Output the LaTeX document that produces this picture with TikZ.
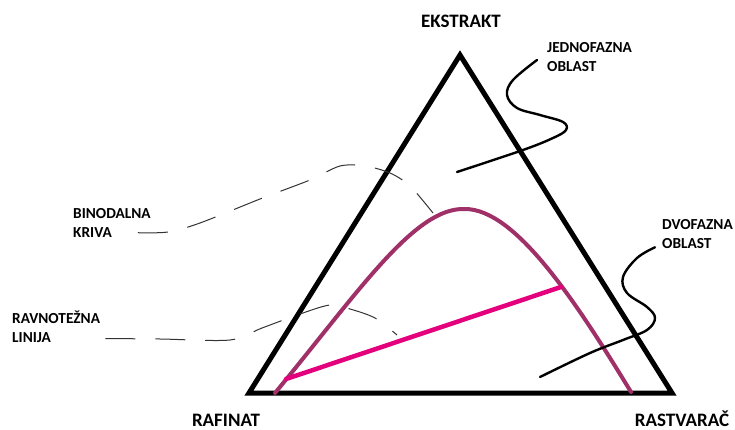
\documentclass[tikz,border=0pt]{standalone}
\usepackage{fontspec}
\setmainfont{Carlito}
\usepackage{tikz}
\usetikzlibrary{calc}
\definecolor{binodcol}{RGB}{160,48,104}
\definecolor{tiecol}{RGB}{228,0,124}
\tikzset{
  tri/.style={draw, line width=5pt},
  binod/.style={draw=binodcol, line width=4pt, line cap=round},
  tie/.style={draw=tiecol, line width=4.5pt, line cap=round},
  wave/.style={draw, line width=2.4pt, line cap=round},
  lead/.style={draw=black!80, line width=1pt, dash pattern=on 30pt off 20pt},
  corner/.style={font=\fontsize{19}{23}\selectfont\bfseries, inner sep=0pt, anchor=base},
  lbl/.style={font=\fontsize{15.3}{19}\selectfont\bfseries, inner sep=0pt,
              align=left, anchor=west},
}
\begin{document}
\begin{tikzpicture}[x=1pt, y=-1pt]
\useasboundingbox (0,0) rectangle (735,430);

\coordinate (E) at (460,55);
\coordinate (R) at (249,393);
\coordinate (S) at (672,393);

\node[corner] (ekstrakt)  at (461,27.5) {EKSTRAKT};
\node[corner] (rafinat)   at (226,426)  {RAFINAT};
\node[corner] (rastvarac) at (682,426)  {RASTVARAČ};

\node[lbl] (jedno)   at (547,57.5)  {JEDNOFAZNA\\OBLAST};
\node[lbl] (dvo)     at (662,234.5) {DVOFAZNA\\OBLAST};
\node[lbl] (binodal) at (73,223)    {BINODALNA\\KRIVA};
\node[lbl] (ravno)   at (12,326.5)  {RAVNOTEŽNA\\LINIJA};

\draw[tri] (R) -- (E) -- (S) -- cycle;

\coordinate (b1) at (275,393);
\coordinate (b2) at (465,209);
\coordinate (b3) at (631,392);
\draw[binod] (b1) .. controls (360,290) and (415,207) .. (b2)
  .. controls (515,209) and (575,300) .. (b3);

\coordinate (t1) at (286,379);
\coordinate (t2) at (561,287);
\draw[tie] (t1) -- (t2);

\coordinate (jedno-in)   at ($(jedno.west)+(-10,2.5)$);
\coordinate (jedno-out)  at (457,172);
\coordinate (dvo-in)     at ($(dvo.south west)+(-7,-2)$);
\coordinate (dvo-out)    at (540,377);
\coordinate (binodal-in) at ($(binodal.south east)+(-13,-5)$);
\coordinate (binodal-out) at (433,213);
\coordinate (ravno-in)   at ($(ravno.south east)+(5,-4)$);
\coordinate (ravno-out)  at (397,335);

\draw[wave] plot[smooth, tension=0.6] coordinates {(jedno-in) (513,80) (507,95)
  (517,108) (540,115) (563,122) (566,130) (553,138) (523,150) (jedno-out)};
\draw[wave] plot[smooth, tension=0.6] coordinates {(dvo-in) (637,258) (623,277)
  (627,293) (647,307) (655,318) (647,330) (623,340) (590,353) (dvo-out)};

\draw[lead] plot[smooth, tension=0.5] coordinates {(binodal-in) (168,232) (200,223)
  (260,199) (310,180) (340,166) (365,166) (390,173) (410,186) (binodal-out)};
\draw[lead] plot[smooth, tension=0.5] coordinates {(ravno-in) (160,339) (230,340)
  (262,328) (300,314) (330,305) (350,309) (375,318) (ravno-out)};
\end{tikzpicture}
\end{document}
